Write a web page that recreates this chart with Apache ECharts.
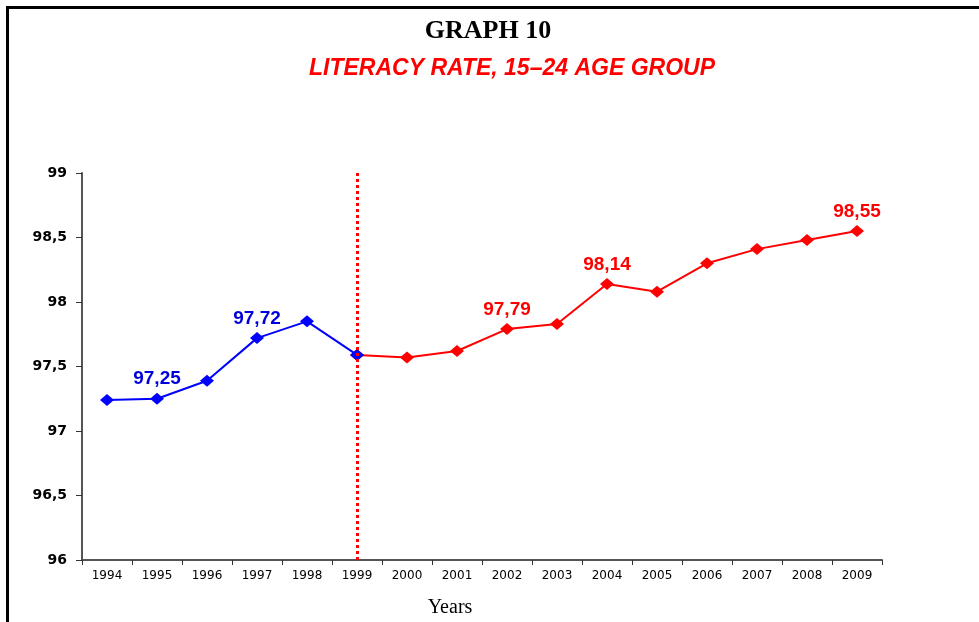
<!DOCTYPE html>
<html>
<head>
<meta charset="utf-8">
<script src="https://cdn.jsdelivr.net/npm/echarts@6/dist/echarts.min.js"></script>
<style>
html,body{margin:0;padding:0;background:#fff;}
#c{width:979px;height:622px;}
</style>
</head>
<body>
<div id="c"></div>
<script>
const years = ['1994','1995','1996','1997','1998','1999','2000','2001','2002','2003','2004','2005','2006','2007','2008','2009'];
const blueYears = ['1994','1995','1996','1997','1998','1999'];
const blueValues = [97.24, 97.25, 97.39, 97.72, 97.85, 97.59];
const redYears = ['1999','2000','2001','2002','2003','2004','2005','2006','2007','2008','2009'];
const redValues = [97.59, 97.57, 97.62, 97.79, 97.83, 98.14, 98.08, 98.30, 98.41, 98.48, 98.55];
const labelledYears = ['1995','1997','2002','2004','2009'];
const dividerYear = '1999';

function buildSeriesData(ys, vs) {
  return years.map(y => {
    const i = ys.indexOf(y);
    if (i < 0) return null;
    return { value: vs[i], label: { show: labelledYears.indexOf(y) >= 0 } };
  });
}
const fmt = p => String(p.value).replace('.', ',');

const chart = echarts.init(document.getElementById('c'), null, {renderer: 'canvas'});
chart.setOption({
  animation: false,
  backgroundColor: '#fff',
  graphic: [
    { type: 'polyline', shape: { points: [[7.5, 622], [7.5, 7.5], [979, 7.5]] }, style: { stroke: '#000', lineWidth: 3, fill: null } },
    { type: 'text', x: 488, y: 31, style: { text: 'GRAPH 10', font: 'bold 26px "Liberation Serif", "Times New Roman", serif', fill: '#000', align: 'center', verticalAlign: 'middle' } },
    { type: 'text', x: 512, y: 69, style: { text: 'LITERACY RATE, 15–24 AGE GROUP', font: 'italic bold 23px "Liberation Sans", Arial, sans-serif', fill: '#ff0000', align: 'center', verticalAlign: 'middle', shadowColor: 'rgba(0,0,0,0.3)', shadowOffsetX: 1, shadowOffsetY: 1, shadowBlur: 1 } },
    { type: 'text', x: 450, y: 608, style: { text: 'Years', font: '20px "Liberation Serif", "Times New Roman", serif', fill: '#000', align: 'center', verticalAlign: 'middle' } }
  ],
  grid: { left: 82, right: 97, top: 173, bottom: 62, containLabel: false },
  xAxis: {
    type: 'category',
    data: years,
    boundaryGap: true,
    axisLine: { lineStyle: { color: '#555', width: 2 } },
    axisTick: { show: true, alignWithLabel: false, length: 5, lineStyle: { color: '#333', width: 1 } },
    axisLabel: { color: '#000', fontFamily: '"DejaVu Sans", Arial, sans-serif', fontSize: 12, margin: 10 },
    splitLine: { show: false }
  },
  yAxis: {
    type: 'value',
    min: 96, max: 99, interval: 0.5,
    axisLine: { show: true, lineStyle: { color: '#555', width: 2 } },
    axisTick: { show: true, length: 6, lineStyle: { color: '#333', width: 1 } },
    axisLabel: { color: '#000', fontFamily: '"DejaVu Sans", Arial, sans-serif', fontSize: 14, fontWeight: 'bold', margin: 15, formatter: v => String(v).replace('.', ',') },
    splitLine: { show: false }
  },
  series: [
    {
      type: 'line',
      data: buildSeriesData(blueYears, blueValues),
      color: '#0000ff',
      lineStyle: { color: '#0000ff', width: 2 },
      symbol: 'diamond', symbolSize: [14, 12],
      itemStyle: { color: '#0000ff' },
      label: { position: 'top', distance: 4, color: '#0000dd', fontFamily: '"Liberation Sans", Arial, sans-serif', fontSize: 19, fontWeight: 'bold', formatter: fmt },
      z: 3
    },
    {
      type: 'line',
      data: buildSeriesData(redYears, redValues),
      color: '#ff0000',
      lineStyle: { color: '#ff0000', width: 2 },
      symbol: 'diamond', symbolSize: [14, 12],
      itemStyle: { color: '#ff0000' },
      label: { position: 'top', distance: 4, color: '#ff0000', fontFamily: '"Liberation Sans", Arial, sans-serif', fontSize: 19, fontWeight: 'bold', formatter: fmt },
      markLine: {
        silent: true, symbol: 'none', label: { show: false },
        lineStyle: { color: '#ff0000', type: [3, 3], width: 3 },
        data: [{ xAxis: dividerYear }]
      },
      z: 2
    }
  ]
});
</script>
</body>
</html>
